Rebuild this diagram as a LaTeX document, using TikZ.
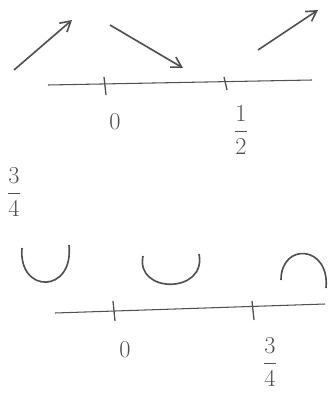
\documentclass[tikz,border=0pt]{standalone}
\usetikzlibrary{arrows.meta}
\definecolor{pencil}{HTML}{505050}

\begin{document}
\begin{tikzpicture}[x=0.03cm,y=-0.03cm,
 every node/.style={text=pencil,font=\huge},
 axis/.style={draw=pencil,line width=.9pt},
 tick/.style={draw=pencil,line width=1.1pt},
 arr/.style={-{Straight Barb[length=3mm,width=3.5mm]},pencil,line width=1.4pt},
 cupline/.style={draw=pencil,line width=1.4pt}]
\useasboundingbox (0,0) rectangle (327,396);
% first derivative: increasing / decreasing
\draw[arr] (14,70) -- (72,20);
\draw[arr] (110,25) -- (183,68);
\draw[arr] (258,50) -- (318,10);
\draw[axis] (48,85) -- (312,80);
\draw[tick] (104,77) -- (106,95);
\draw[tick] (224,77) -- (227,90);
\node (zero1) at (115,122) {0};
\node (half) at (241,130) {$\displaystyle\frac{1}{2}$};
% second derivative: concavity
\node (threeq) at (14,192) {$\displaystyle\frac{3}{4}$};
\draw[cupline] (22,248) .. controls (18,294) and (74,294) .. (69,245);
\draw[cupline] (143,256) .. controls (135,294) and (207,294) .. (199,254);
\draw[cupline] (281,280) .. controls (281,242) and (330,245) .. (326,288);
\draw[axis] (55,313) -- (325,304);
\draw[tick] (113,301) -- (115,321);
\draw[tick] (252,301) -- (254,320);
\node (zero2) at (125,350) {0};
\node (threeq2) at (270,362) {$\displaystyle\frac{3}{4}$};
\end{tikzpicture}
\end{document}
